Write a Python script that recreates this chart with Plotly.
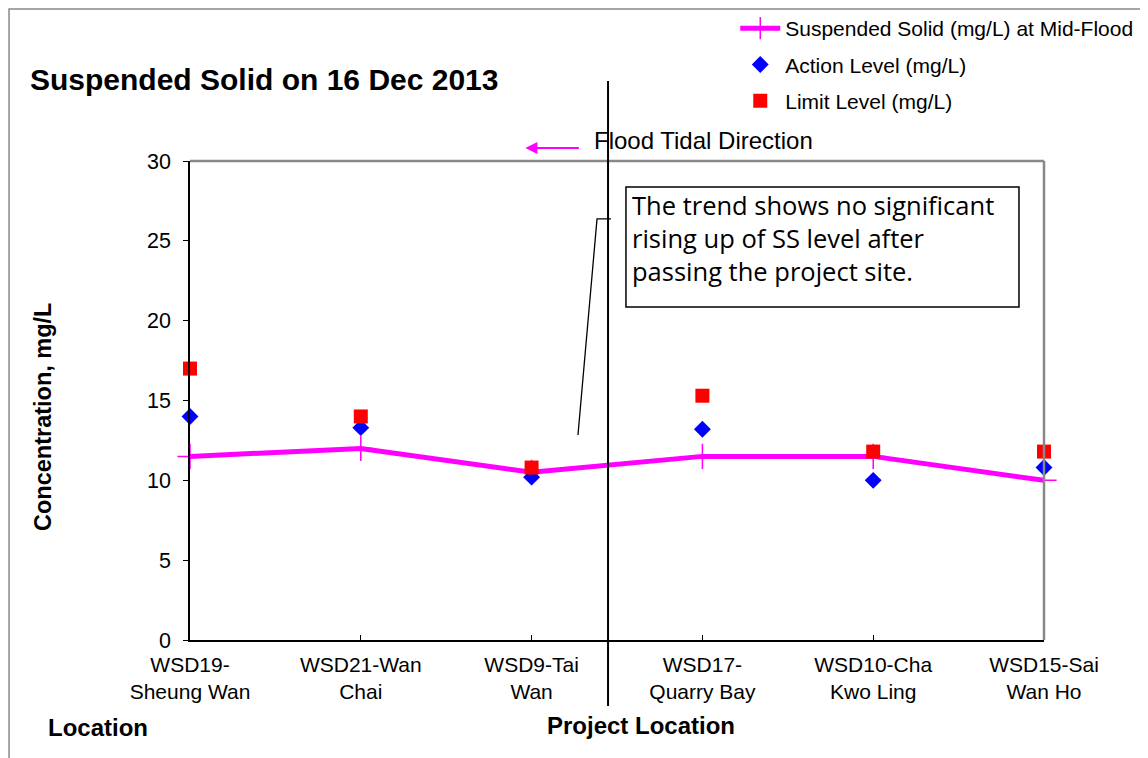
import plotly.graph_objects as go

locations = ["WSD19-<br>Sheung Wan", "WSD21-Wan<br>Chai", "WSD9-Tai<br>Wan",
             "WSD17-<br>Quarry Bay", "WSD10-Cha<br>Kwo Ling", "WSD15-Sai<br>Wan Ho"]
ss_mid_flood = [11.5, 12.0, 10.5, 11.5, 11.5, 10.0]
action_level = [14.0, 13.3, 10.2, 13.2, 10.0, 10.8]
limit_level = [17.0, 14.0, 10.8, 15.3, 11.8, 11.8]

FONT = "Liberation Sans, Arial, sans-serif"

fig = go.Figure()
fig.add_trace(go.Scatter(
    x=locations, y=ss_mid_flood, mode="lines+markers",
    name="Suspended Solid (mg/L) at Mid-Flood", legendgroup="a",
    line=dict(color="#ff00ff", width=5),
    marker=dict(symbol="cross-thin", size=18, color="#ff00ff",
                line=dict(color="#ff00ff", width=1.5)),
    cliponaxis=False,
))
fig.add_trace(go.Scatter(
    x=locations, y=action_level, mode="markers", name="Action Level (mg/L)",
    legendgroup="b",
    marker=dict(symbol="diamond", size=13, color="#0000ff"),
    cliponaxis=False,
))
fig.add_trace(go.Scatter(
    x=locations, y=limit_level, mode="markers", name="Limit Level (mg/L)",
    legendgroup="c",
    marker=dict(symbol="square", size=14, color="#ff0000"),
    cliponaxis=False,
))

fig.update_layout(
    width=1148, height=758,
    margin=dict(l=182, r=112, t=153, b=126, autoexpand=False),
    paper_bgcolor="white", plot_bgcolor="white",
    font=dict(family=FONT, size=21, color="black"),
    showlegend=True,
    legend=dict(xref="container", yref="container", x=0.6335, y=1.009,
                xanchor="left", yanchor="top",
                font=dict(size=21), bgcolor="rgba(0,0,0,0)",
                tracegroupgap=6, itemwidth=40),
    xaxis=dict(range=[0, 5], showline=True, linecolor="black", linewidth=1.5,
               ticks="inside", ticklen=5, tickcolor="black", showgrid=False,
               tickfont=dict(size=21), ticklabelstandoff=5, fixedrange=True),
    yaxis=dict(range=[0, 30], dtick=5, showline=True, linecolor="black", linewidth=1.5,
               ticks="outside", ticklen=5, tickcolor="black", showgrid=False,
               zeroline=False, tickfont=dict(size=21.5), ticklabelstandoff=8),
)

# grey frame on top and right of the plot area
fig.add_shape(type="line", xref="paper", yref="paper", x0=0, x1=1, y0=1, y1=1,
              line=dict(color="#888888", width=2.5))
fig.add_shape(type="line", xref="paper", yref="paper", x0=1, x1=1, y0=0, y1=1,
              line=dict(color="#888888", width=2.5))

# outer chart border (left and top)
fig.add_shape(type="path", xref="paper", yref="paper",
              path="M -0.2119,-0.3 L -0.2119,1.3173 L 1.2,1.3173",
              line=dict(color="#888888", width=1.5))

# project location divider
fig.add_shape(type="line", xref="paper", yref="paper", x0=0.4895, x1=0.4895,
              y0=-0.138, y1=1.167, line=dict(color="black", width=2))

# callout leader line
fig.add_shape(type="path", xref="paper", yref="paper",
              path="M 0.4543,0.428 L 0.4766,0.879 L 0.4930,0.879",
              line=dict(color="black", width=1.3))

# flood direction arrow
fig.add_annotation(xref="paper", yref="paper", x=0.3927, y=1.027,
                   ax=55, ay=0, axref="pixel", ayref="pixel",
                   text="", showarrow=True, arrowhead=2, arrowsize=1.2,
                   arrowwidth=2, arrowcolor="#ff00ff")
fig.add_annotation(xref="paper", yref="paper", x=0.4712, y=1.043,
                   xanchor="left", yanchor="middle", showarrow=False,
                   text="Flood Tidal Direction", font=dict(size=24))

# title
fig.add_annotation(xref="paper", yref="paper", x=-0.1897, y=1.17,
                   xanchor="left", yanchor="middle", showarrow=False,
                   text="<b>Suspended Solid on 16 Dec 2013</b>", font=dict(size=30))

# y axis title
fig.add_annotation(xref="paper", yref="paper", x=-0.1721, y=0.4656,
                   xanchor="center", yanchor="middle", showarrow=False, textangle=-90,
                   text="<b>Concentration, mg/L</b>", font=dict(size=23.5))

# bottom labels
fig.add_annotation(xref="paper", yref="paper", x=-0.1686, y=-0.182,
                   xanchor="left", yanchor="middle", showarrow=False,
                   text="<b>Location</b>", font=dict(size=24))
fig.add_annotation(xref="paper", yref="paper", x=0.5282, y=-0.178,
                   xanchor="center", yanchor="middle", showarrow=False,
                   text="<b>Project Location</b>", font=dict(size=24))

# comment box
fig.add_shape(type="rect", xref="paper", yref="paper",
              x0=0.5105, x1=0.9707, y0=0.695, y1=0.9457,
              line=dict(color="black", width=1.5), fillcolor="white")
fig.add_annotation(xref="paper", yref="paper", x=0.5150, y=0.947,
                   xanchor="left", yanchor="top", showarrow=False, align="left",
                   text="The trend shows no significant<br>rising up of SS level after<br>passing the project site.",
                   font=dict(family="Open Sans, Noto Sans, sans-serif", size=25.5))

fig.write_html("out.html")
